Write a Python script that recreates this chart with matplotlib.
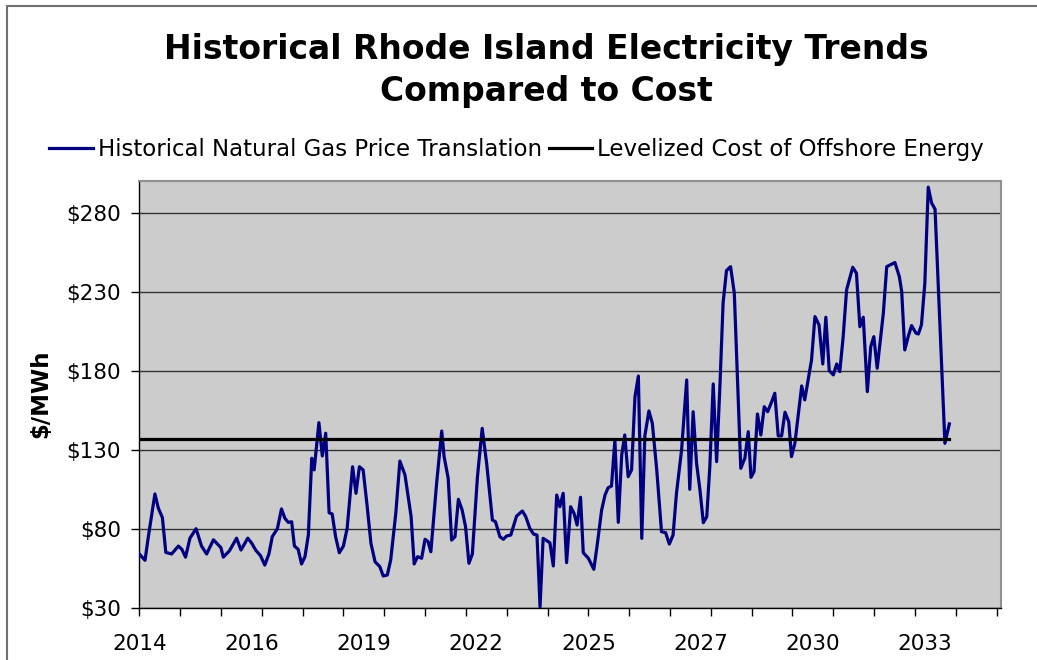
import numpy as np
import matplotlib
matplotlib.use('Agg')
import matplotlib.pyplot as plt
from matplotlib.patches import Rectangle
from matplotlib.ticker import FixedLocator, NullFormatter, FixedFormatter

plt.rcParams['font.family'] = 'DejaVu Sans'

# months since Jan 2014 and translated gas price ($/MWh)
months = [0, 1.7, 2.6, 4.6, 5.6, 6.8, 7.8, 9.5, 11.5, 12.5, 13.6, 14.9, 16.7, 18.3,
          19.8, 21.8, 24, 24.7, 26.5, 28.6, 29.9, 31.9, 33, 34.2, 35.6, 36.9, 38.1,
          39.1, 40.6, 41.8, 42.8, 43.8, 44.8, 45.6, 46.7, 47.7, 48.7, 49.7, 50.7,
          51.4, 52.8, 53.8, 54.8, 55.8, 56.7, 57.7, 58.8, 60, 61.1, 62.7, 63.7,
          64.7, 65.8, 67, 68.1, 69.3, 70.7, 71.7, 72.9, 73.9, 75.4, 76.6, 78.1,
          79.9, 80.8, 81.8, 83, 84, 84.9, 85.7, 87.4, 88.9, 89.6, 90.8, 91.8, 92.8,
          93.8, 94.9, 95.9, 96.9, 97.9, 99.4, 100.8, 102.1, 103.8, 104.7, 106, 107,
          108, 109.2, 110.9, 112.6, 113.6, 114.8, 115.9, 116.9, 117.8, 118.7, 120.7,
          121.7, 122.7, 123.6, 124.6, 125.6, 126.8, 127.8, 128.7, 129.7, 130.5, 132,
          133.6, 134.6, 135.9, 136.9, 137.8, 138.8, 139.8, 140.8, 141.8, 142.7,
          143.7, 144.7, 145.7, 146.7, 147.7, 148.6, 149.8, 150.8, 152.1, 153.5,
          154.7, 155.8, 156.9, 157.9, 159.4, 160.9, 161.8, 162.8, 163.8, 164.8,
          165.8, 166.8, 167.7, 168.7, 169.7, 170.7, 171.6, 172.6, 173.8, 174.9,
          176.8, 178, 179, 179.8, 180.7, 181.7, 182.7, 183.7, 184.7, 185.9, 186.8,
          187.8, 188.8, 189.8, 190.9, 191.7, 192.7, 194.7, 195.6, 197.6, 198.6,
          199.8, 200.9, 201.8, 202.8, 204, 205, 205.9, 206.9, 207.9, 209.7, 210.8,
          211.8, 212.8, 214, 215, 215.9, 216.9, 218.7, 219.7, 222.1, 223.4, 224.1,
          225, 226, 227, 228.3, 229, 229.9, 230.9, 231.9, 232.9, 233.9, 236.8, 238.1]
gas_price = [64, 60, 74, 102, 93, 87, 65, 64, 69, 67, 62, 74, 80, 69,
             64, 73, 68, 62, 66, 74, 66.5, 74, 71, 66.5, 63, 57, 64,
             75, 80, 92.5, 86.6, 84, 84.4, 69, 67, 57.7, 62.3, 76, 124.6,
             117.2, 147.1, 126, 140.4, 90.1, 89.3, 75, 64.8, 69, 80.2, 119.2, 102.4,
             119.2, 117.2, 93.9, 70.7, 59.1, 56, 50.1, 50.7, 60.2, 89.7, 122.8, 114,
             87.6, 57.7, 62.3, 61.3, 73.3, 71.8, 65.4, 108.7, 141.8, 125.6, 111.9, 72.8, 74.9,
             98.6, 91.8, 81.3, 58.1, 64, 112.9, 143.5, 121.4, 85.5, 84.4, 74.9, 73.3,
             75.4, 76, 88, 91.2, 87.6, 80.2, 76.6, 76, 30.6, 73.9, 71.1,
             56.4, 101.3, 93.9, 102.4, 58.5, 93.9, 89.7, 82.3, 99.9, 64.8, 61.3,
             54.3, 69.7, 91.8, 101.3, 105.9, 107, 136.1, 84, 126.6, 139.3,
             112.9, 117.2, 163.5, 176.6, 73.9, 138.7, 154.5, 146.7, 117.2, 78.1,
             77.5, 70.3, 76, 102.4, 129.8, 174.1, 104.9, 154, 121.4, 104.5,
             83.8, 87.6, 119.2, 171.6, 122.4, 172, 222.7, 243.3, 245.8, 229,
             118.2, 124.6, 141.4, 112.5, 116.1, 152.6, 139.3, 157.2, 154, 160.4, 165.7,
             138.7, 138.7, 153.7, 147.7, 125.6, 134, 170.3, 161.5, 186.8, 214.2,
             208.9, 184.2, 213.8, 180, 177.3, 184.2, 179.4, 201.5, 231.1, 245.4, 241.6,
             207.8, 213.8, 166.7, 195.2, 201.5, 181.5, 216.3, 245.8, 248.4, 239.5, 230,
             193.1, 201.5, 208.5, 203.7, 203.2, 208.9, 235.3, 296.1, 286, 282.2, 134, 146.3]

levelized_cost = 137
cost_span = [0, 238]

year_labels = ['2014', '2016', '2019', '2022', '2025', '2027', '2030', '2033']
label_step = 33
y_ticks = [30, 80, 130, 180, 230, 280]

fig = plt.figure(figsize=(10.37, 6.6), dpi=100)
fig.patch.set_facecolor('white')
fig.patches.append(Rectangle((7 / 1037, -0.1), 1.2, 1 - 6 / 660 + 0.1,
                             transform=fig.transFigure, fill=False,
                             edgecolor='#707070', linewidth=1.5))

ax = fig.add_axes([0.1343, 0.0792, 0.965 - 0.1343, 0.7258 - 0.0792])
ax.set_facecolor('#cccccc')

ax.plot(months, gas_price, color='#000080', linewidth=2.3,
        label='Historical Natural Gas Price Translation', zorder=3)
ax.plot(cost_span, [levelized_cost, levelized_cost], color='black', linewidth=2.3,
        label='Levelized Cost of Offshore Energy', zorder=4)

ax.set_xlim(0, 253.2)
ax.set_ylim(30, 300)

# year ticks every 12 months, labels every 33 months
ax.xaxis.remove_overlapping_locs = False
ax.xaxis.set_major_locator(FixedLocator(np.arange(0, 253, 12)))
ax.xaxis.set_major_formatter(NullFormatter())
ax.xaxis.set_minor_locator(FixedLocator([i * label_step for i in range(len(year_labels))]))
ax.xaxis.set_minor_formatter(FixedFormatter(year_labels))
ax.tick_params(axis='x', which='major', direction='out', length=6, width=1, color='black')
ax.tick_params(axis='x', which='minor', length=0, pad=19, labelsize=15.5)

ax.set_yticks(y_ticks)
ax.set_yticklabels(['$%d' % v for v in y_ticks])
ax.tick_params(axis='y', direction='out', length=6, width=1, labelsize=15.5, pad=7)
ax.yaxis.grid(True, color='#333333', linewidth=1)
ax.set_axisbelow(True)

for side in ['top', 'right']:
    ax.spines[side].set_color('#909090')
    ax.spines[side].set_linewidth(1.5)
for side in ['left', 'bottom']:
    ax.spines[side].set_color('black')
    ax.spines[side].set_linewidth(1)

ax.set_ylabel('$/MWh', fontsize=16.5, fontweight='bold')
ax.yaxis.set_label_coords((52 - 139.3) / 861.4, (607.7 - 394) / 426.7)

fig.text(0.527, 0.8935, 'Historical Rhode Island Electricity Trends\nCompared to Cost',
         ha='center', va='center', fontsize=23.8, fontweight='bold', linespacing=1.33)

fig.legend(loc='center', bbox_to_anchor=(0.498, 0.773), ncol=2, frameon=False,
           fontsize=16.5, handlelength=1.9, handletextpad=0.2, columnspacing=0.3)

plt.savefig('out.png', dpi=100)
